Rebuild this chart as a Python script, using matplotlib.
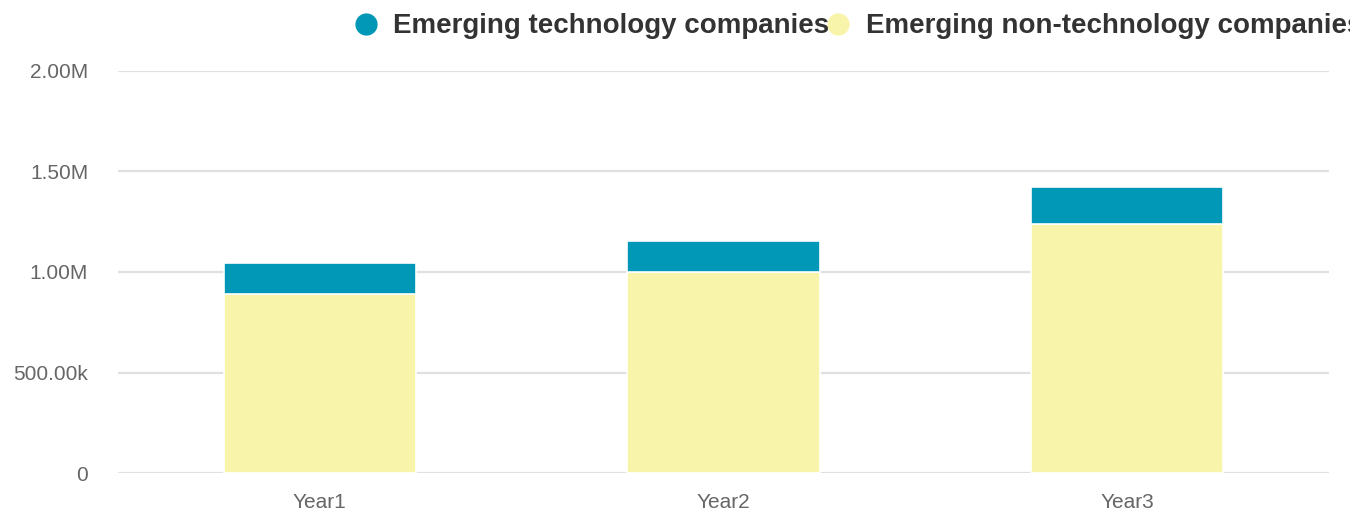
import matplotlib.pyplot as plt
from matplotlib.lines import Line2D
from matplotlib.ticker import FuncFormatter
from matplotlib.transforms import Bbox, TransformedBbox

plt.rcParams['font.family'] = ['Liberation Sans', 'DejaVu Sans']

years = ['Year1', 'Year2', 'Year3']
tech = [0.155e6, 0.154e6, 0.183e6]
non_tech = [0.89e6, 1.0e6, 1.24e6]
series_names = ['Emerging technology companies', 'Emerging non-technology companies']
colors = ['#0098b6', '#f8f5aa']


def fmt_val(v, pos):
    if v == 0:
        return '0'
    if v >= 1e6:
        return '%.2fM' % (v / 1e6)
    return '%.2fk' % (v / 1e3)


fig = plt.figure(figsize=(13.69, 5.15), dpi=100)
ax = fig.add_axes([0.0862, 0.0806, 0.8846, 0.7825])

x = range(len(years))
ax.bar(x, non_tech, width=0.476, color=colors[1], edgecolor='white', linewidth=1.2, zorder=3)
ax.bar(x, tech, bottom=non_tech, width=0.476, color=colors[0], edgecolor='white', linewidth=1.2, zorder=3)

ax.set_xlim(-0.5, 2.5)
ax.set_ylim(0, 2e6)
ax.set_yticks([0, 0.5e6, 1e6, 1.5e6, 2e6])
ax.yaxis.set_major_formatter(FuncFormatter(fmt_val))
ax.set_xticks(list(x))
ax.set_xticklabels(years)
ax.grid(axis='y', color='#e0e0e0', linewidth=1.6, zorder=0)
ax.tick_params(axis='y', length=0, pad=21.5, labelsize=15, labelcolor='#666666')
ax.tick_params(axis='x', length=0, pad=14, labelsize=15, labelcolor='#666666')
for s in ax.spines.values():
    s.set_visible(False)

# legend row along the top, cut off at the legend box edge
legend_clip = TransformedBbox(Bbox.from_extents(0, 0, 1350 / 1369, 1), fig.transFigure)
fig.add_artist(Line2D([366 / 1369], [1 - 24 / 515], marker='o', markersize=15,
                      color=colors[0], linestyle='none', transform=fig.transFigure))
fig.text(393 / 1369, 1 - 26 / 515, series_names[0], fontsize=20, fontweight='bold',
         color='#333333', va='center', ha='left')
fig.add_artist(Line2D([838 / 1369], [1 - 24 / 515], marker='o', markersize=15,
                      color=colors[1], linestyle='none', transform=fig.transFigure))
t2 = fig.text(866 / 1369, 1 - 26 / 515, series_names[1], fontsize=20, fontweight='bold',
              color='#333333', va='center', ha='left')
t2.set_clip_box(legend_clip)
t2.set_clip_on(True)

fig.savefig('out.png', dpi=100)
